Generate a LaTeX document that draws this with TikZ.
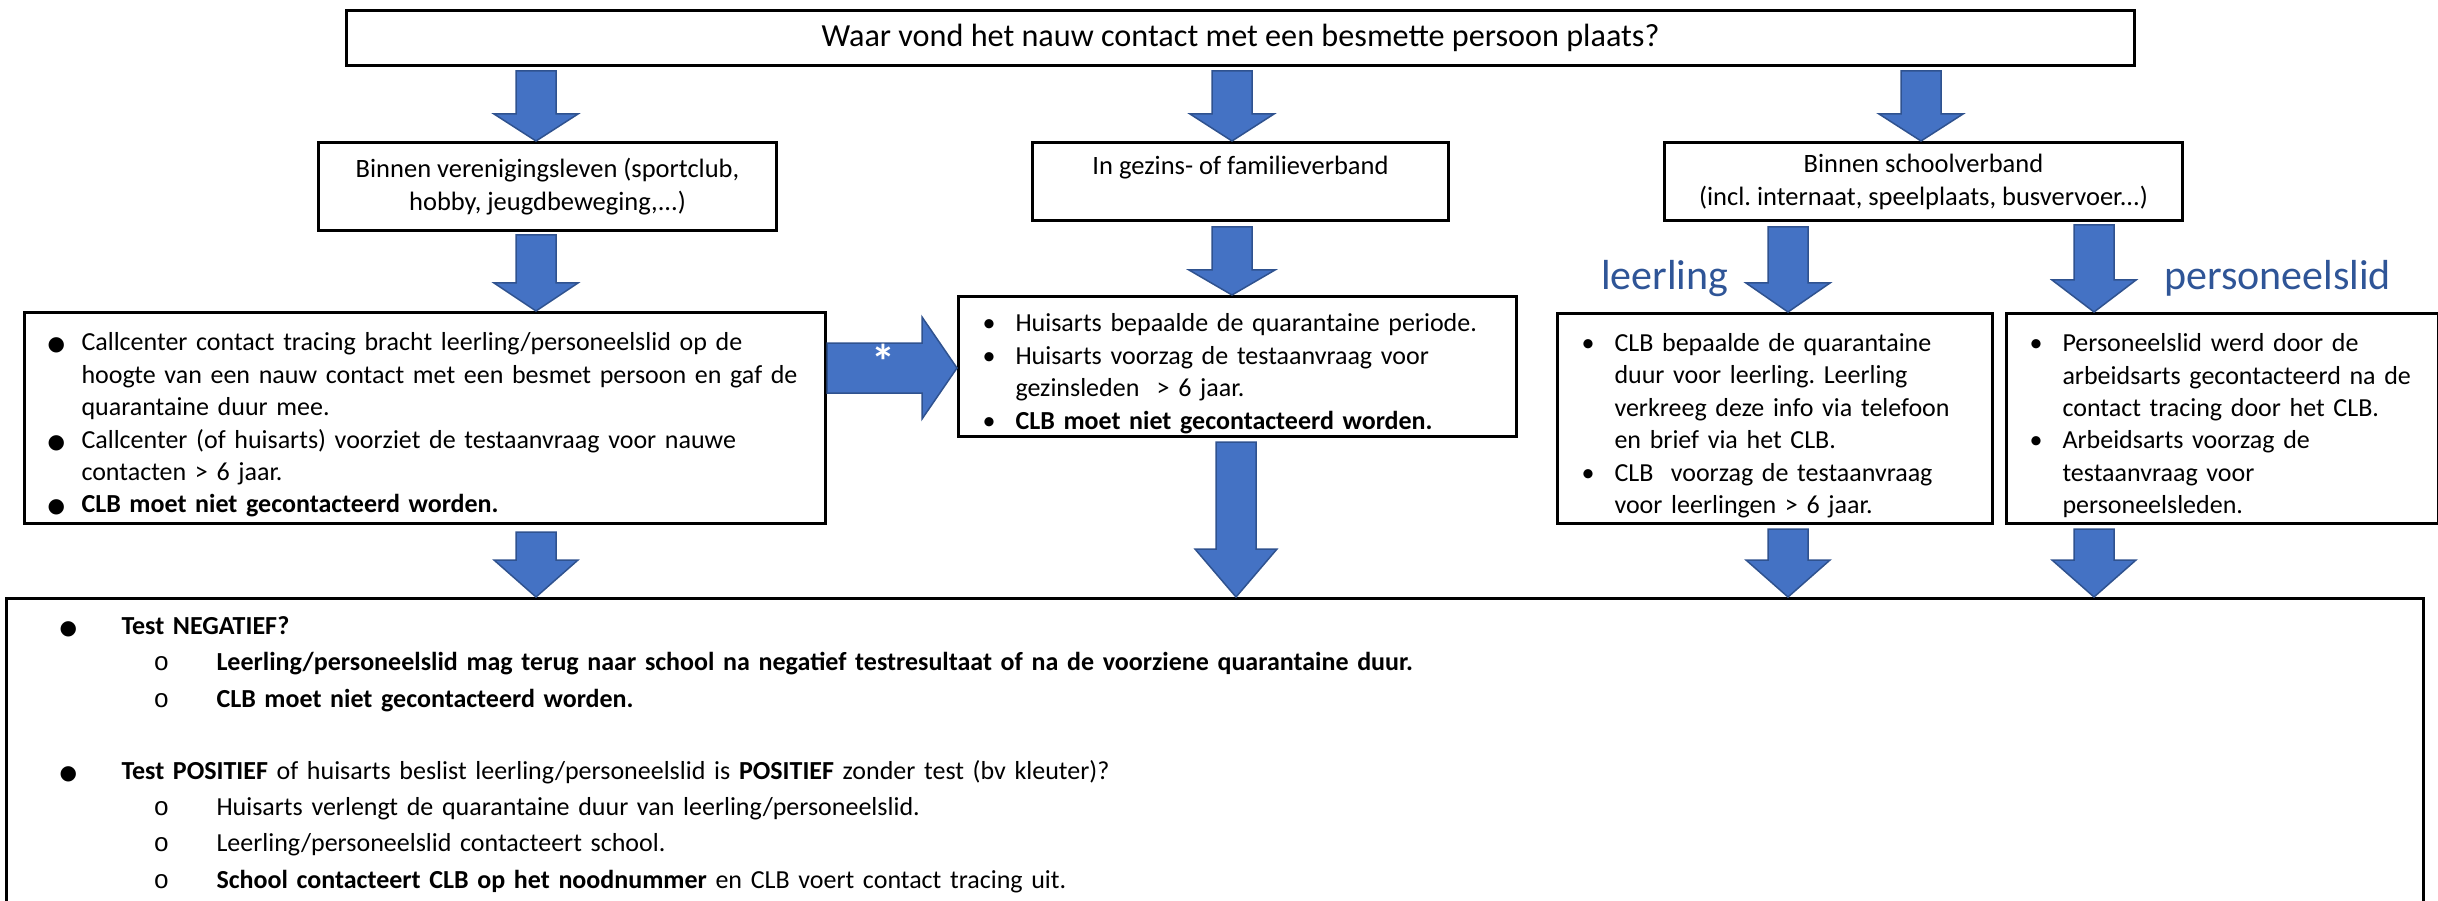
\documentclass[tikz,border=0pt]{standalone}
\usepackage{fontspec}
\setmainfont{Carlito}
\newfontfamily\symfnt{DejaVu Sans}
\newfontfamily\monofnt{Liberation Mono}
\usepackage{tikz}
\usepackage{xcolor}
\usetikzlibrary{calc}
\frenchspacing

\definecolor{pijlblauw}{HTML}{4472C4}
\definecolor{pijlrand}{HTML}{2F528F}
\definecolor{kopblauw}{HTML}{2F5597}

\newcommand{\grootbol}{{\symfnt\fontsize{20}{20}\selectfont ●}}
\newcommand{\rondje}{{\monofnt\fontsize{26}{26}\selectfont o}}

\newenvironment{punten}[3]{%
  \begin{list}{#3}{%
    \setlength{\leftmargin}{#2}\setlength{\labelsep}{0pt}%
    \setlength{\labelwidth}{\dimexpr#2-#1\relax}%
    \setlength{\itemsep}{0pt}\setlength{\parsep}{0pt}%
    \setlength{\topsep}{0pt}\setlength{\partopsep}{0pt}%
    \def\makelabel##1{##1\hfil}}}%
  {\end{list}}

% blok pijl: start, punt, halve schacht, halve kop, kop lengte
\newcommand{\blokpijl}[5]{%
  \draw[pijl] ($(#1)!#3!90:(#2)$) -- ($(#2)!#5!(#1)!#3!90:(#2)$)
    -- ($(#2)!#5!(#1)!#4!90:(#2)$) -- (#2)
    -- ($(#2)!#5!(#1)!#4!-90:(#2)$) -- ($(#2)!#5!(#1)!#3!-90:(#2)$)
    -- ($(#1)!#3!-90:(#2)$) -- cycle;}

\begin{document}
\begin{tikzpicture}[x=1pt, y=-1pt,
    kader/.style={draw, line width=3pt, anchor=north west, inner ysep=0pt},
    kop/.style={kader, align=center, inner xsep=10pt,
      font=\fontsize{26.5}{33}\selectfont},
    lijst/.style={kader, align=left, inner xsep=10pt,
      font=\fontsize{26}{32.4}\selectfont},
    pijl/.style={fill=pijlblauw, draw=pijlrand, line width=1.5pt}]
  \useasboundingbox (0,0) rectangle (2438,901);
  \clip (0,0) rectangle (2438,901);

  % vraag
  \node[kader, minimum width=1788pt, minimum height=55pt,
    font=\fontsize{32.2}{38}\selectfont] (qst) at (345,9)
    {Waar vond het nauw contact met een besmette persoon plaats?};

  % plaats van het contact
  \node[kop, minimum width=458pt, minimum height=88pt] (vrn) at (317,141)
    {Binnen verenigingsleven (sportclub,\\hobby, jeugdbeweging,...)};
  \node[kop, minimum width=416pt, minimum height=78pt,
    text height=20pt, text depth=33pt] (gzn) at (1031,141)
    {In gezins- of familieverband};
  \node[kop, minimum width=518pt, minimum height=78pt] (schl) at (1663,141)
    {Binnen schoolverband\\(incl. internaat, speelplaats, busvervoer...)};

  % wat er gebeurde
  \node[lijst, minimum width=801pt, minimum height=211pt, text width=781pt]
    (vrij) at (23,311) {%
    \begin{punten}{13pt}{47pt}{\grootbol}
    \item Callcenter contact tracing bracht leerling/personeelslid op de\newline
      hoogte van een nauw contact met een besmet persoon en gaf de\newline
      quarantaine duur mee.
    \item Callcenter (of huisarts) voorziet de testaanvraag voor nauwe\newline
      contacten > 6 jaar.
    \item \textbf{CLB moet niet gecontacteerd worden.}
    \end{punten}};
  \node[lijst, minimum width=558pt, minimum height=140pt, text width=538pt]
    (gezin) at (957,295) {%
    \begin{punten}{14pt}{47pt}{\textbullet}
    \item Huisarts bepaalde de quarantaine periode.
    \item Huisarts voorzag de testaanvraag voor\newline gezinsleden\ \ > 6 jaar.
    \item \textbf{CLB moet niet gecontacteerd worden.}
    \end{punten}};
  \node[lijst, minimum width=435pt, minimum height=210pt, text width=415pt]
    (lrl) at (1556,312) {%
    \begin{punten}{14pt}{47pt}{\textbullet}
    \item CLB bepaalde de quarantaine\newline duur voor leerling. Leerling\newline
      verkreeg deze info via telefoon\newline en brief via het CLB.
    \item CLB\ \ voorzag de testaanvraag\newline voor leerlingen > 6 jaar.
    \end{punten}};
  \node[lijst, minimum width=432pt, minimum height=210pt, text width=412pt]
    (pers) at (2005,312) {%
    \begin{punten}{13pt}{46pt}{\textbullet}
    \item Personeelslid werd door de\newline arbeidsarts gecontacteerd na de\newline
      contact tracing door het CLB.
    \item Arbeidsarts voorzag de\newline testaanvraag voor\newline personeelsleden.
    \end{punten}};

  % uitslag van de test
  \node[lijst, minimum width=2417pt, text width=2397pt, inner ysep=0pt,
    text height=0pt, text depth=330pt,
    font=\fontsize{26}{36.2}\selectfont] (uitslag) at (5,597) {%
    \begin{punten}{43pt}{105pt}{\grootbol}
    \item \textbf{Test NEGATIEF?}
      \begin{punten}{32pt}{95pt}{\rondje}
      \item \textbf{Leerling/personeelslid mag terug naar school na negatief
        testresultaat of na de voorziene quarantaine duur.}
      \item \textbf{CLB moet niet gecontacteerd worden.}
      \end{punten}
      \vspace{36.2pt}
    \item \textbf{Test POSITIEF} of huisarts beslist leerling/personeelslid is
      \textbf{POSITIEF} zonder test (bv kleuter)?
      \begin{punten}{32pt}{95pt}{\rondje}
      \item Huisarts verlengt de quarantaine duur van leerling/personeelslid.
      \item Leerling/personeelslid contacteert school.
      \item \textbf{School contacteert CLB op het noodnummer} en CLB voert
        contact tracing uit.
      \end{punten}
    \end{punten}};

  \node[anchor=base west, inner sep=0pt, text=kopblauw,
    font=\fontsize{42}{50}\selectfont] (lbl) at ($(lrl.north west)+(45,-22)$)
    {leerling};
  \node[anchor=base west, inner sep=0pt, text=kopblauw,
    font=\fontsize{42}{50}\selectfont] (pbl) at ($(pers.north west)+(159,-22)$)
    {personeelslid};

  % pijlen
  \path (qst.south west) +(191,4) coordinate (qa);
  \path (qa |- vrn.north) coordinate (qat);
  \blokpijl{qa}{qat}{20pt}{42pt}{27pt}
  \path (qst.south west) +(887,4) coordinate (qb);
  \path (qb |- gzn.north) coordinate (qbt);
  \blokpijl{qb}{qbt}{20pt}{42pt}{27pt}
  \path (qst.south west) +(1576,4) coordinate (qc);
  \path (qc |- schl.north) coordinate (qct);
  \blokpijl{qc}{qct}{20pt}{42pt}{27pt}

  \path (vrn.south west) +(219,3) coordinate (va);
  \path (va |- vrij.north) coordinate (vat);
  \blokpijl{va}{vat}{20pt}{42pt}{28pt}
  \path (gzn.south west) +(201,5) coordinate (ga);
  \path (ga |- gezin.north) coordinate (gat);
  \blokpijl{ga}{gat}{20pt}{43pt}{25pt}
  \path (schl.south west) +(125,5) coordinate (sa);
  \path (sa |- lrl.north) coordinate (sat);
  \blokpijl{sa}{sat}{20pt}{42pt}{29pt}
  \path (schl.south west) +(431,3) coordinate (sb);
  \path (sb |- pers.north) coordinate (sbt);
  \blokpijl{sb}{sbt}{20pt}{42pt}{32pt}

  \path (vrij.south west) +(513,7) coordinate (ua);
  \path (ua |- uitslag.north) coordinate (uat);
  \blokpijl{ua}{uat}{20pt}{42pt}{37pt}
  \path (gezin.south west) +(279,4) coordinate (ub);
  \path (ub |- uitslag.north) coordinate (ubt);
  \blokpijl{ub}{ubt}{20pt}{41pt}{48pt}
  \path (lrl.south west) +(232,4) coordinate (uc);
  \path (uc |- uitslag.north) coordinate (uct);
  \blokpijl{uc}{uct}{20pt}{42pt}{37pt}
  \path (pers.south west) +(89,4) coordinate (ud);
  \path (ud |- uitslag.north) coordinate (udt);
  \blokpijl{ud}{udt}{20pt}{42pt}{37pt}

  \path (vrij.north east) +(0,57) coordinate (zs);
  \path (zs -| gezin.west) coordinate (zst);
  \blokpijl{zs}{zst}{25pt}{51pt}{35pt}
  \node[anchor=base, inner sep=0pt, text=white,
    font=\bfseries\fontsize{48}{48}\selectfont] (ster) at ($(zs)+(56,10)$) {*};
\end{tikzpicture}
\end{document}
